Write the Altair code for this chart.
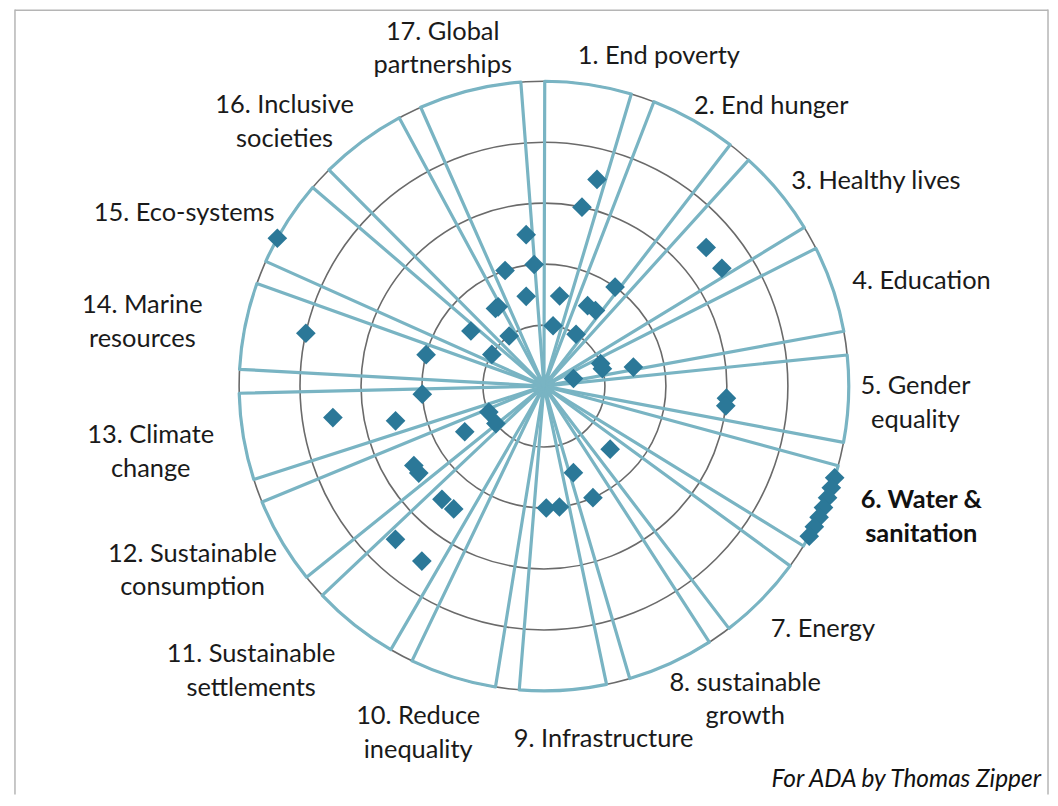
import math
import altair as alt
import pandas as pd

# ---------------- data ----------------
sdg_labels = [
    "1. End poverty", "2. End hunger", "3. Healthy lives", "4. Education",
    "5. Gender\nequality", "6. Water &\nsanitation", "7. Energy",
    "8. sustainable\ngrowth", "9. Infrastructure", "10. Reduce\ninequality",
    "11. Sustainable\nsettlements", "12. Sustainable\nconsumption",
    "13. Climate\nchange", "14. Marine\nresources", "15. Eco-systems",
    "16. Inclusive\nsocieties", "17. Global\npartnerships",
]
highlight_sdg = 6

# each diamond: goal number, bearing within the wheel (deg), score (ring 0-5)
point_sdg = [1, 1, 1, 1, 2, 2, 2, 2, 3, 3, 4, 4, 4, 4, 5, 5,
             6, 6, 6, 6, 6, 6, 6, 7, 8, 8, 9, 9,
             11, 11, 11, 11, 12, 12, 12, 12, 12, 13, 13, 13,
             14, 14, 15, 15, 15, 16, 16, 16, 17, 17, 17, 17]
point_angle = [14.4, 12.0, 9.9, 8.6, 35.7, 28.5, 34.3, 31.8, 49.5, 56.5, 68.4, 73.5, 78.0, 75.6, 93.8, 96.2,
               107.5, 109.5, 111.5, 113.5, 115.5, 117.5, 119.5, 133.6, 161.2, 156.3, 178.9, 172.7,
               222.0, 216.3, 224.1, 214.9, 244.7, 232.0, 240.0, 238.6, 235.2, 266.2, 261.5, 256.8,
               284.9, 282.5, 307.0, 301.3, 299.0, 328.0, 330.0, 325.2, 353.3, 355.4, 341.4, 348.8]
point_score = [3.5, 3.0, 1.5, 1.0, 2.0, 1.5, 1.5, 1.0, 3.5, 3.5, 1.0, 1.0, 1.5, 0.5, 3.0, 3.0,
               5, 5, 5, 5, 5, 5, 5, 1.5, 1.5, 2.0, 2.0, 2.0,
               2.5, 2.5, 3.5, 3.5, 1.0, 1.0, 1.5, 2.5, 2.5, 2.0, 3.5, 2.5,
               2.0, 4.0, 1.5, 1.0, 5.0, 1.5, 1.5, 1.0, 2.5, 2.0, 2.0, 1.5]
ring_values = [1, 2, 3, 4, 5]
credit = "For ADA by Thomas Zipper"

# ---------------- layout ----------------
W, H = 1046, 788
UNIT = 61.2            # px per score unit
CX, CY = 538, 378      # wheel centre in plot pixels
MAX_SCORE = 5
GAP_OFFSET, GAP_STEP, HALF_GAP = -2.1, 21.0, 2.25
label_angle = [19.2, 39.1, 58.3, 74.4, 92.6, 109.1, 131.1, 147.3, 170.4, 199.9,
               225.8, 242.3, 260.5, 279.0, 295.7, 315.5, 343.3]
label_radius = [5.73, 5.91, 6.40, 6.43, 6.10, 6.55, 6.07, 6.11, 5.87, 6.06,
                6.70, 6.51, 6.54, 6.67, 6.55, 6.07, 5.78]

BLUE_LINE = "#79b4c3"
DIAMOND = "#2b7898"
GRAY = "#6a6a6a"
FONT = "Lato"
FS = 25.5
LINE_H = 34

xscale = alt.Scale(domain=[-CX / UNIT, (W - CX) / UNIT], nice=False, zero=False)
yscale = alt.Scale(domain=[-(H - CY) / UNIT, CY / UNIT], nice=False, zero=False)
rscale = alt.Scale(type="linear", domain=[0, MAX_SCORE], range=[0, MAX_SCORE * UNIT], zero=True)

gaps = [GAP_OFFSET + GAP_STEP * j for j in range(17)]
starts = [g + HALF_GAP for g in gaps]
ends = [gaps[j + 1] - HALF_GAP for j in range(16)] + [gaps[0] + 360 - HALF_GAP]

sectors = pd.DataFrame({
    "sdg": list(range(1, 18)),
    "t0": [math.radians(a) for a in starts],
    "t1": [math.radians(a) for a in ends],
    "outer": [MAX_SCORE] * 17,
    "cx": [0] * 17,
    "cy": [0] * 17,
})
rings = pd.DataFrame({"ring": ring_values, "cx": 0, "cy": 0})
points = pd.DataFrame({"sdg": point_sdg, "angle": point_angle, "score": point_score})
labels = pd.DataFrame({
    "sdg": list(range(1, 18)),
    "label": sdg_labels,
    "nlines": [s.count("\n") + 1 for s in sdg_labels],
    "la": label_angle,
    "lr": label_radius,
})

X0 = alt.X("cx:Q", scale=xscale, axis=None)
Y0 = alt.Y("cy:Q", scale=yscale, axis=None)

ring_layer = alt.Chart(rings).mark_arc(
    theta=0, theta2=2 * math.pi, fill="transparent", stroke=GRAY, strokeWidth=1.6
).encode(x=X0, y=Y0, radius=alt.Radius("ring:Q", scale=rscale, stack=None))

sector_layer = alt.Chart(sectors).mark_arc(
    fill="transparent", stroke=BLUE_LINE, strokeWidth=3.2, strokeJoin="round"
).encode(
    x=X0, y=Y0,
    theta=alt.Theta("t0:Q", scale=None, stack=None),
    theta2="t1:Q",
    radius=alt.Radius("outer:Q", scale=rscale, stack=None),
)

point_layer = alt.Chart(points).transform_calculate(
    px="datum.score * sin(datum.angle * PI / 180)",
    py="datum.score * cos(datum.angle * PI / 180)",
).mark_point(shape="diamond", filled=True, size=390, color=DIAMOND, opacity=1).encode(
    x=alt.X("px:Q", scale=xscale, axis=None),
    y=alt.Y("py:Q", scale=yscale, axis=None),
)

# multi-line text starts at the anchor, so lift it by half of the extra lines
half_line_units = LINE_H / 2 / UNIT
label_base = alt.Chart(labels).transform_calculate(
    lx="datum.lr * sin(datum.la * PI / 180)",
    ly=f"datum.lr * cos(datum.la * PI / 180) + (datum.nlines - 1) * {half_line_units}",
)
label_enc = dict(
    x=alt.X("lx:Q", scale=xscale, axis=None),
    y=alt.Y("ly:Q", scale=yscale, axis=None),
    text="label:N",
)
label_layer = label_base.transform_filter(f"datum.sdg != {highlight_sdg}").mark_text(
    align="center", baseline="middle", lineBreak="\n", font=FONT, fontSize=FS,
    lineHeight=LINE_H, color="#1a1a1a"
).encode(**label_enc)
label_bold = label_base.transform_filter(f"datum.sdg == {highlight_sdg}").mark_text(
    align="center", baseline="middle", lineBreak="\n", font=FONT, fontSize=FS,
    lineHeight=LINE_H, fontWeight="bold", color="#111111"
).encode(**label_enc)

credit_layer = alt.Chart(pd.DataFrame({"t": [credit]})).mark_text(
    align="right", baseline="middle", font=FONT, fontSize=24.5, fontStyle="italic", color="#111111"
).encode(x=alt.value(1037), y=alt.value(773), text="t:N")

frame = alt.Chart(pd.DataFrame({"k": [0]})).mark_rule(color="#b5b5b5", strokeWidth=1.5)
frame_left = frame.encode(x=alt.value(7), y=alt.value(0), y2=alt.value(H))
frame_right = frame.encode(x=alt.value(1044), y=alt.value(0), y2=alt.value(H))
frame_top = frame.encode(x=alt.value(7), x2=alt.value(1044), y=alt.value(0.75))

chart = alt.layer(
    frame_left, frame_right, frame_top,
    ring_layer, sector_layer, point_layer, label_layer, label_bold, credit_layer,
).properties(
    width=W, height=H, padding=0, autosize=alt.AutoSizeParams(type="none"),
    background="white",
).configure_view(stroke=None)

chart.save("out.html", embed_options={"renderer": "svg", "actions": False})
